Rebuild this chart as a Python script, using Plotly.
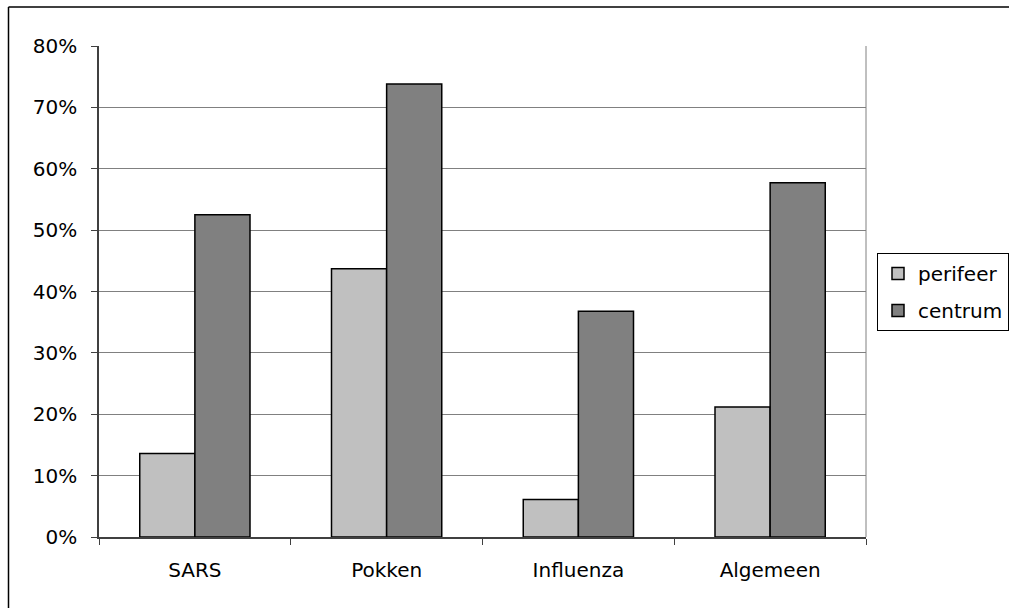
import plotly.graph_objects as go

categories = ["SARS", "Pokken", "Influenza", "Algemeen"]
perifeer = [0.136, 0.437, 0.061, 0.212]
centrum = [0.525, 0.738, 0.368, 0.577]
y_ticks = [0, 0.1, 0.2, 0.3, 0.4, 0.5, 0.6, 0.7, 0.8]

FONT = "DejaVu Sans"

fig = go.Figure()
fig.add_trace(go.Bar(
    name="perifeer", x=categories, y=perifeer,
    marker=dict(color="#C0C0C0", line=dict(color="#000000", width=1.5)),
    legendgroup="a",
))
fig.add_trace(go.Bar(
    name="centrum", x=categories, y=centrum,
    marker=dict(color="#808080", line=dict(color="#000000", width=1.5)),
    legendgroup="b",
))

# plot area in pixels: x 99..866, y 46..537
W, H = 1009, 608
L, R, T, B = 99, 866, 46, 537
pw, ph = R - L, B - T

def px(x):
    return (x - L) / pw

def py(y):
    return (B - y) / ph

fig.update_layout(
    width=W, height=H,
    margin=dict(l=L, r=W - R, t=T, b=H - B, pad=0, autoexpand=False),
    paper_bgcolor="white", plot_bgcolor="white",
    font=dict(family=FONT, size=20, color="#000000"),
    barmode="group", bargap=0.425, bargroupgap=0,
    showlegend=True,
    legend=dict(
        xref="container", yref="container",
        x=877 / W, y=1 - 253 / H, xanchor="left", yanchor="top",
        bordercolor="#000000", borderwidth=1, bgcolor="white",
        font=dict(family=FONT, size=20, color="#000000"),
        traceorder="grouped", tracegroupgap=8,
        itemwidth=30,
    ),
    xaxis=dict(
        type="category", showgrid=False, automargin=False,
        showline=True, linecolor="#404040", linewidth=1.5,
        ticks="outside", tickson="boundaries", ticklen=6,
        tickcolor="#404040", tickwidth=1,
        ticklabelstandoff=14,
        tickfont=dict(family=FONT, size=20, color="#000000"),
    ),
    yaxis=dict(
        range=[0, 0.8], tickvals=y_ticks, tickformat=".0%", automargin=False,
        showgrid=True, gridcolor="#808080", gridwidth=1,
        showline=True, linecolor="#404040", linewidth=1.5,
        ticks="outside", ticklen=6, tickcolor="#404040", tickwidth=1,
        ticklabelstandoff=10,
        zeroline=False,
        tickfont=dict(family=FONT, size=20, color="#000000"),
    ),
    shapes=[
        # right border of the plot area
        dict(type="line", xref="paper", yref="paper", x0=1, x1=1, y0=0, y1=1,
             line=dict(color="#808080", width=1)),
        # outer frame: top and left edges
        dict(type="line", xref="paper", yref="paper",
             x0=px(8.5), x1=px(W), y0=py(7), y1=py(7),
             line=dict(color="#000000", width=1.5)),
        dict(type="line", xref="paper", yref="paper",
             x0=px(8.5), x1=px(8.5), y0=py(7), y1=py(H),
             line=dict(color="#000000", width=1.5)),
    ],
)

fig.write_html("out.html")
